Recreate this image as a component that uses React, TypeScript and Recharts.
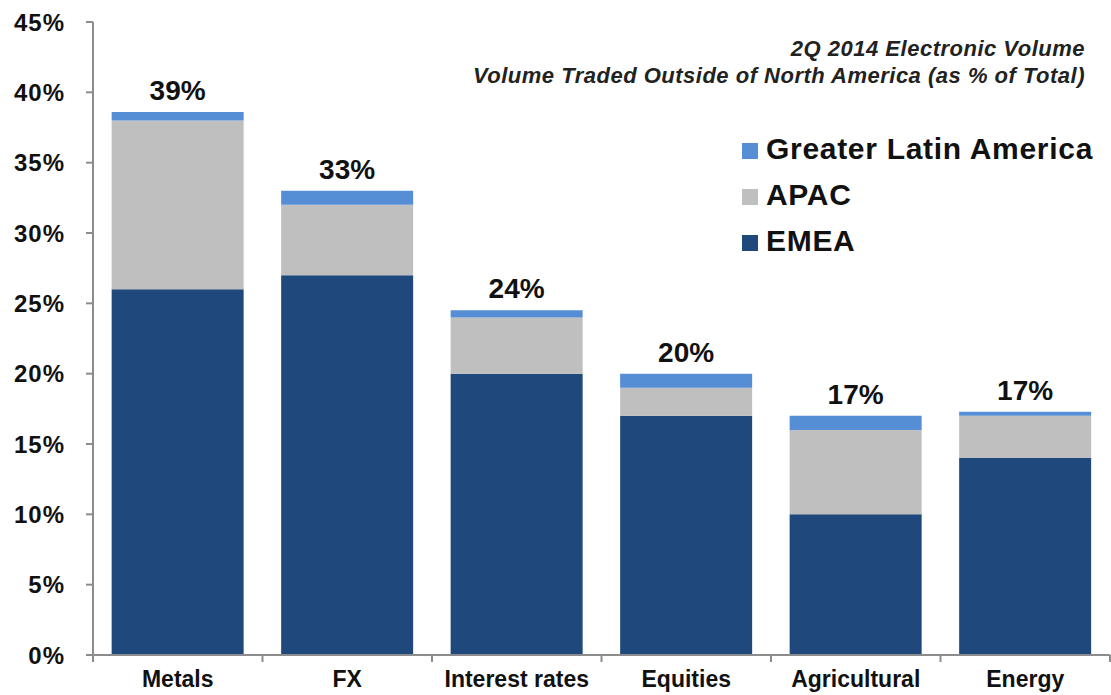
import React from "react"
import { Bar, BarChart, LabelList, XAxis, YAxis } from "recharts"

const categories = ["Metals", "FX", "Interest rates", "Equities", "Agricultural", "Energy"]
const emea = [26, 27, 20, 17, 10, 14]
const apac = [12, 5, 4, 2, 6, 3]
const latam = [0.6, 1, 0.5, 1, 1, 0.3]
const totalLabels = ["39%", "33%", "24%", "20%", "17%", "17%"]
const yTicks = [0, 5, 10, 15, 20, 25, 30, 35, 40, 45]

const data = categories.map((cat, i) => ({
  cat,
  emea: emea[i],
  apac: apac[i],
  latam: latam[i],
}))

const FONT = "Arial, 'Liberation Sans', Helvetica, sans-serif"
const AXIS = "#8c8c8c"

const series = [
  { key: "latam", name: "Greater Latin America", color: "#558ED5" },
  { key: "apac", name: "APAC", color: "#BFBFBF" },
  { key: "emea", name: "EMEA", color: "#1F497D" },
]

function CategoryTick(props: any) {
  const { x, y, payload, index } = props
  const half = payload && payload.offset ? payload.offset : 84.5
  const isLast = index === categories.length - 1
  return (
    <g>
      <line x1={x - half} x2={x - half} y1={y} y2={y + 7} stroke={AXIS} strokeWidth={2} />
      {isLast && <line x1={x + half} x2={x + half} y1={y} y2={y + 7} stroke={AXIS} strokeWidth={2} />}
      <text x={x} y={y + 32} textAnchor="middle" fontFamily={FONT} fontWeight="bold" fontSize={23} fill="#111">
        {payload.value}
      </text>
    </g>
  )
}

function TotalLabel(props: any) {
  const { x, y, width, index } = props
  return (
    <text x={x + width / 2} y={y - 12} textAnchor="middle" fontFamily={FONT} fontWeight="bold" fontSize={28} fill="#111">
      {totalLabels[index]}
    </text>
  )
}

export default function App() {
  return (
    <div style={{ position: "absolute", left: 0, top: 0, width: 1111, height: 695, background: "#fff" }}>
      <BarChart
        width={1111}
        height={695}
        data={data}
        margin={{ top: 22, right: 1, bottom: 0, left: 0 }}
        barCategoryGap="11%"
      >
        <YAxis
          width={93}
          domain={[0, 45]}
          ticks={yTicks}
          interval={0}
          tickFormatter={(v) => `${v}%`}
          tickSize={7}
          tickMargin={21}
          stroke={AXIS}
          strokeWidth={2}
          tick={{ fill: "#111", fontSize: 24, fontWeight: "bold", fontFamily: FONT, letterSpacing: 1 }}
        />
        <XAxis
          dataKey="cat"
          stroke={AXIS}
          strokeWidth={2}
          tickLine={false}
          tickSize={0}
          tickMargin={0}
          interval={0}
          height={40}
          tick={<CategoryTick />}
        />
        <Bar dataKey="emea" name="EMEA" stackId="a" fill="#1F497D" isAnimationActive={false} />
        <Bar dataKey="apac" name="APAC" stackId="a" fill="#BFBFBF" isAnimationActive={false} />
        <Bar dataKey="latam" name="Greater Latin America" stackId="a" fill="#558ED5" isAnimationActive={false}>
          <LabelList dataKey="latam" content={<TotalLabel />} />
        </Bar>
      </BarChart>
      <div
        style={{
          position: "absolute",
          right: 1111 - 1085,
          top: 35,
          textAlign: "right",
          fontFamily: FONT,
          fontWeight: "bold",
          fontStyle: "italic",
          fontSize: 22,
          letterSpacing: 0.5,
          lineHeight: "27px",
          color: "#222",
        }}
      >
        <div>2Q 2014 Electronic Volume</div>
        <div>Volume Traded Outside of North America (as % of Total)</div>
      </div>
      <div style={{ position: "absolute", left: 742, top: 126, fontFamily: FONT }}>
        {series.map((s) => (
          <div key={s.key} style={{ display: "flex", alignItems: "center", height: 46 }}>
            <span style={{ display: "inline-block", width: 16, height: 16, background: s.color, marginRight: 8, marginTop: 4 }} />
            <span style={{ fontSize: 30, fontWeight: "bold", color: "#111", letterSpacing: 0.7 }}>{s.name}</span>
          </div>
        ))}
      </div>
    </div>
  )
}
